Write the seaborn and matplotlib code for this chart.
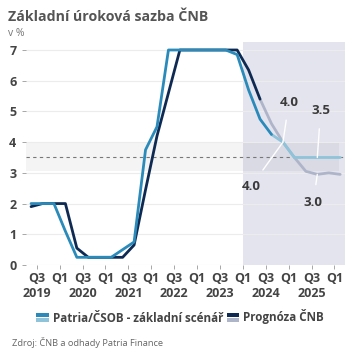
import numpy as np
import pandas as pd
import matplotlib
matplotlib.use("Agg")
import matplotlib.pyplot as plt
from matplotlib.legend_handler import HandlerBase
from matplotlib.patches import Rectangle
import seaborn as sns

sns.set_style("white")
plt.rcParams['font.family'] = ['Open Sans', 'DejaVu Sans']

# quarterly data (mid-quarter points)
quarters = ['Q2 2019', 'Q3 2019', 'Q4 2019', 'Q1 2020', 'Q2 2020', 'Q3 2020', 'Q4 2020',
            'Q1 2021', 'Q2 2021', 'Q3 2021', 'Q4 2021', 'Q1 2022', 'Q2 2022', 'Q3 2022',
            'Q4 2022', 'Q1 2023', 'Q2 2023', 'Q3 2023', 'Q4 2023', 'Q1 2024', 'Q2 2024',
            'Q3 2024', 'Q4 2024', 'Q1 2025', 'Q2 2025', 'Q3 2025', 'Q4 2025', 'Q1 2026']
patria = [2.0, 2.0, 2.0, 1.1, 0.25, 0.25, 0.25, 0.25, 0.5, 0.75, 3.75, 4.5, 7.0, 7.0,
          7.0, 7.0, 7.0, 7.0, 6.85, 5.7, 4.75, 4.25, 4.0, 3.5, 3.5, 3.5, 3.5, 3.5]
cnb = [1.9, 2.0, 2.0, 2.0, 0.55, 0.25, 0.25, 0.25, 0.25, 0.65, 2.45, 4.2, 5.6, 7.0,
       7.0, 7.0, 7.0, 7.0, 7.0, 6.35, 5.4, 4.6, 4.0, 3.5, 3.05, 2.95, 3.0, 2.95]

tick_labels = ['Q3\n2019', 'Q1', 'Q3\n2020', 'Q1', 'Q3\n2021', 'Q1', 'Q3\n2022', 'Q1',
               'Q3\n2023', 'Q1', 'Q3\n2024', 'Q1', 'Q3\n2025', 'Q1']

patria_last_actual = 'Q3 2024'
cnb_last_actual = 'Q2 2024'
forecast_from = 'Q1 2024'
neutral_band = (3.05, 4.0)
neutral_rate = 3.5

c_patria = '#2a8ab9'
c_patria_fc = '#8fc3da'
c_cnb = '#0e2a52'
c_cnb_fc = '#aeb5c9'
c_text = '#444444'

df = pd.DataFrame({'quarter': quarters, 'patria': patria, 'cnb': cnb})
df['x'] = np.arange(len(df))
ip = quarters.index(patria_last_actual)
ic = quarters.index(cnb_last_actual)

fig = plt.figure(figsize=(3.6, 3.6), dpi=100)
ax = fig.add_axes([26 / 360, 95 / 360, 319 / 360, 223 / 360])

xmin, xmax = -0.44, 27.42
ax.axvspan(quarters.index(forecast_from) - 0.5, xmax, color='#e4e4ef', lw=0, zorder=0.5)
ax.fill_between([xmin, len(quarters) - 1.1], neutral_band[0], neutral_band[1],
                color='black', alpha=0.045, lw=0, zorder=0.8)
ax.axhline(neutral_rate, color='#777777', lw=0.8, ls=(0, (3, 3)), zorder=1.6)

sns.lineplot(data=df[df.x <= ip], x='x', y='patria', color=c_patria, lw=2.0, ax=ax, zorder=3)
sns.lineplot(data=df[df.x >= ip], x='x', y='patria', color=c_patria_fc, lw=2.0, ax=ax, zorder=2.5)
sns.lineplot(data=df[df.x <= ic], x='x', y='cnb', color=c_cnb, lw=2.0, ax=ax, zorder=2.8)
sns.lineplot(data=df[df.x >= ic], x='x', y='cnb', color=c_cnb_fc, lw=2.0, ax=ax, zorder=2.4)

ax.set_xlim(xmin, xmax)
ax.set_ylim(0, 7.26)
ax.set_yticks(range(0, 8))
ax.set_xticks(np.arange(len(tick_labels)) * 2 + 0.5)
ax.set_xticklabels(tick_labels, fontweight='bold', color=c_text, fontsize=9, linespacing=1.25)
ax.set_yticklabels([str(v) for v in range(0, 8)], fontweight='bold', color=c_text, fontsize=9)
ax.tick_params(axis='y', length=3, width=0.6, color='#999999', pad=4, left=True)
ax.tick_params(axis='x', length=3, width=0.6, color='#999999', pad=2, bottom=True)
ax.set_axisbelow('line')
ax.grid(axis='y', color='#ececec', lw=0.8)
ax.grid(axis='x', visible=False)
for s in ax.spines.values():
    s.set_visible(False)
ax.set_xlabel('')
ax.set_ylabel('')

# annotations
ann = [('4.0', 22, patria[22], (4.3, 28.8)),
       ('4.0', 22, cnb[22], (-23, -32)),
       ('3.5', 25, patria[25], (2.4, 33.7)),
       ('3.0', 25, cnb[25], (-2.9, -20.4))]
for txt, i, v, off in ann:
    ax.annotate(txt, xy=(i, v), xytext=off, textcoords='offset points',
                ha='center', va='center', fontsize=9.5, fontweight='bold', color='#3a3a3a',
                arrowprops=dict(arrowstyle='-', color='white', lw=1, shrinkA=6, shrinkB=0),
                zorder=4)


class TwoTone:
    def __init__(self, top, bottom):
        self.top = top
        self.bottom = bottom


class TwoToneHandler(HandlerBase):
    def create_artists(self, legend, orig_handle, xd, yd, width, height, fontsize, trans):
        h = height * 0.42
        r1 = Rectangle((xd, yd + height / 2 + 0.5), width, h, facecolor=orig_handle.top,
                       lw=0, transform=trans)
        r2 = Rectangle((xd, yd + height / 2 - 0.5 - h), width, h, facecolor=orig_handle.bottom,
                       lw=0, transform=trans)
        return [r1, r2]


handles = [TwoTone(c_patria, c_patria_fc), TwoTone(c_cnb, c_cnb_fc)]
fig.legend(handles, ['Patria/ČSOB - základní scénář', 'Prognóza ČNB'],
           handler_map={TwoTone: TwoToneHandler()}, loc='center',
           bbox_to_anchor=(0.5, 1 - 317 / 360), ncol=2, frameon=False,
           handlelength=1.1, handletextpad=0.3, columnspacing=0.3,
           prop={'weight': 'bold', 'size': 8.4}, labelcolor=c_text)

fig.text(8 / 360, 1 - 17 / 360, 'Základní úroková sazba ČNB', fontsize=10.2, fontweight='bold',
         color='#555555', va='center', ha='left')
fig.text(8 / 360, 1 - 33 / 360, 'v %', fontsize=7.5, color='#777777', va='center', ha='left')
fig.text(12 / 360, 1 - 342 / 360, 'Zdroj: ČNB a odhady Patria Finance', fontsize=6.7,
         color='#666666', va='center', ha='left')

fig.savefig('out.png', dpi=100)
